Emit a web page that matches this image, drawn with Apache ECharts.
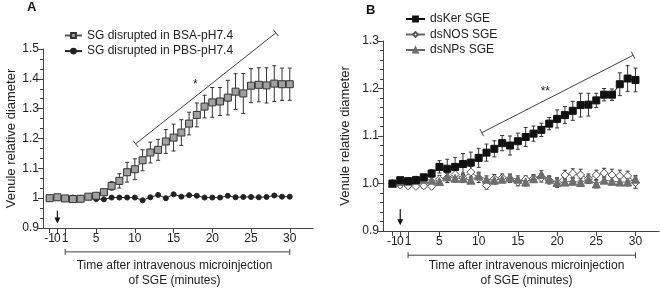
<!DOCTYPE html>
<html>
<head>
<meta charset="utf-8">
<script src="https://cdn.jsdelivr.net/npm/echarts@6/dist/echarts.min.js"></script>
<style>
  html, body { margin: 0; padding: 0; background: #fff; }
  #chart { width: 660px; height: 293px; }
</style>
</head>
<body>
<div id="chart"></div>
<script>
// time points (minutes), same for both panels
var minutes = [-1, 0, 1, 2, 3, 4, 5, 6, 7, 8, 9, 10, 11, 12, 13, 14, 15, 16, 17, 18, 19, 20, 21, 22, 23, 24, 25, 26, 27, 28, 29, 30];
var tickMinutes = [-1, 0, 1, 5, 10, 15, 20, 25, 30];
var labelMinutes = [-1, 1, 5, 10, 15, 20, 25, 30];
var injectMinute = [0];

// panel A
var bsaMean = [1.000, 1.003, 0.999, 0.997, 0.998, 1.005, 1.008, 1.020, 1.041, 1.058, 1.087, 1.097, 1.127, 1.153, 1.162, 1.190,
  1.203, 1.220, 1.250, 1.279, 1.307, 1.321, 1.324, 1.337, 1.357, 1.351, 1.377, 1.380, 1.378, 1.384, 1.382, 1.382];
var bsaErr = [0.003, 0.004, 0.003, 0.004, 0.004, 0.004, 0.005, 0.006, 0.014, 0.024, 0.033, 0.035, 0.035, 0.035, 0.035, 0.040,
  0.045, 0.043, 0.038, 0.040, 0.038, 0.050, 0.047, 0.058, 0.060, 0.067, 0.057, 0.057, 0.059, 0.060, 0.054, 0.054];
var pbsMean = [1.000, 1.002, 0.999, 1.002, 1.001, 1.003, 0.997, 0.996, 1.002, 1.002, 1.002, 1.002, 0.993, 1.003, 1.011, 1.000,
  1.013, 1.005, 1.010, 1.008, 1.002, 1.002, 1.002, 1.008, 1.003, 1.004, 1.004, 1.003, 1.004, 1.009, 1.005, 1.005];

// panel B
var kerMean = [1.000, 1.007, 1.005, 1.007, 1.013, 1.021, 1.035, 1.031, 1.035, 1.041, 1.044, 1.054, 1.065, 1.073, 1.085, 1.080,
  1.089, 1.098, 1.105, 1.113, 1.126, 1.136, 1.144, 1.153, 1.165, 1.166, 1.175, 1.187, 1.187, 1.209, 1.221, 1.218];
var kerErr = [0.002, 0.003, 0.004, 0.005, 0.006, 0.008, 0.013, 0.020, 0.020, 0.022, 0.022, 0.020, 0.018, 0.017, 0.016, 0.020,
  0.017, 0.020, 0.016, 0.014, 0.013, 0.019, 0.018, 0.020, 0.025, 0.024, 0.015, 0.013, 0.012, 0.024, 0.027, 0.025];
var nosMean = [1.000, 0.997, 0.995, 0.994, 0.995, 0.994, 1.009, 1.012, 1.019, 1.012, 1.024, 1.012, 0.996, 1.010, 1.012, 1.010,
  1.003, 1.009, 1.011, 1.012, 1.007, 1.002, 1.018, 1.021, 1.018, 1.010, 1.018, 1.022, 1.018, 1.016, 1.016, 1.002];
var nosErr = [0.002, 0.004, 0.004, 0.004, 0.005, 0.005, 0.008, 0.010, 0.010, 0.010, 0.012, 0.010, 0.008, 0.009, 0.008, 0.008,
  0.008, 0.007, 0.008, 0.009, 0.008, 0.010, 0.010, 0.010, 0.012, 0.010, 0.010, 0.010, 0.012, 0.012, 0.010, 0.012];
var npsMean = [1.000, 1.004, 1.005, 1.007, 1.009, 1.007, 1.004, 1.014, 1.011, 1.011, 1.007, 1.016, 1.009, 1.007, 1.009, 1.012,
  1.009, 1.003, 1.010, 1.019, 1.009, 1.002, 1.003, 1.005, 1.002, 1.009, 0.999, 1.007, 1.005, 1.003, 1.003, 1.009];
var npsErr = [0.002, 0.004, 0.006, 0.008, 0.008, 0.007, 0.006, 0.008, 0.008, 0.007, 0.007, 0.008, 0.007, 0.008, 0.007, 0.008,
  0.007, 0.008, 0.007, 0.008, 0.007, 0.008, 0.007, 0.008, 0.008, 0.007, 0.008, 0.007, 0.008, 0.007, 0.008, 0.008];

// annotations: [x1, y1, x2, y2] in data units
var bracketA = [[10.1, 1.182, 28.2, 1.554]];
var bracketB = [[10.4, 1.107, 29.7, 1.270]];
var starsA = [[17.8, 1.382]];
var starsB = [[18.5, 1.194]];
var starTexts = ['*', '**'];
var timeBarA = [[1, 0.820, 30, 0.820]];
var timeBarB = [[1, 0.849, 30, 0.849]];
var arrowA = [[0, 0.958, 0.915]];
var arrowB = [[0, 0.946, 0.912]];

var ink = '#222';
var font = 'Liberation Sans, Arial, sans-serif';

function pair(m) {
  return minutes.map(function (t, i) { return [t, m[i]]; });
}
function errData(m, e) {
  return minutes.map(function (t, i) { return [t, m[i] - e[i], m[i] + e[i]]; });
}

function errorSeries(idx, m, e) {
  return {
    type: 'custom', xAxisIndex: idx, yAxisIndex: idx, z: 1, silent: true,
    data: errData(m, e),
    renderItem: function (params, api) {
      var x = api.value(0);
      var lo = api.coord([x, api.value(1)]);
      var hi = api.coord([x, api.value(2)]);
      var st = { stroke: '#333', lineWidth: 1 };
      return {
        type: 'group', children: [
          { type: 'line', shape: { x1: lo[0], y1: lo[1], x2: hi[0], y2: hi[1] }, style: st },
          { type: 'line', shape: { x1: lo[0] - 2, y1: lo[1], x2: lo[0] + 2, y2: lo[1] }, style: st },
          { type: 'line', shape: { x1: hi[0] - 2, y1: hi[1], x2: hi[0] + 2, y2: hi[1] }, style: st }
        ]
      };
    }
  };
}

function bracketSeries(idx, data, cap) {
  return {
    type: 'custom', xAxisIndex: idx, yAxisIndex: idx, silent: true, clip: false,
    data: data,
    renderItem: function (params, api) {
      var p1 = api.coord([api.value(0), api.value(1)]);
      var p2 = api.coord([api.value(2), api.value(3)]);
      var dx = p2[0] - p1[0], dy = p2[1] - p1[1];
      var len = Math.sqrt(dx * dx + dy * dy);
      var nx = -dy / len * cap, ny = dx / len * cap;
      var st = { stroke: '#444', lineWidth: 1 };
      return {
        type: 'group', children: [
          { type: 'line', shape: { x1: p1[0], y1: p1[1], x2: p2[0], y2: p2[1] }, style: st },
          { type: 'line', shape: { x1: p1[0] - nx, y1: p1[1] - ny, x2: p1[0] + nx, y2: p1[1] + ny }, style: st },
          { type: 'line', shape: { x1: p2[0] - nx, y1: p2[1] - ny, x2: p2[0] + nx, y2: p2[1] + ny }, style: st }
        ]
      };
    }
  };
}

function starSeries(idx, data, text) {
  return {
    type: 'custom', xAxisIndex: idx, yAxisIndex: idx, silent: true, clip: false,
    data: data,
    renderItem: function (params, api) {
      var p = api.coord([api.value(0), api.value(1)]);
      return {
        type: 'text', x: p[0], y: p[1],
        style: { text: text, fill: ink, font: '12px ' + font, align: 'center', verticalAlign: 'middle' }
      };
    }
  };
}

function arrowSeries(idx, data) {
  return {
    type: 'custom', xAxisIndex: idx, yAxisIndex: idx, silent: true, clip: false,
    data: data,
    renderItem: function (params, api) {
      var a = api.coord([api.value(0), api.value(1)]);
      var b = api.coord([api.value(0), api.value(2)]);
      return {
        type: 'group', children: [
          { type: 'line', shape: { x1: a[0], y1: a[1], x2: b[0], y2: b[1] - 4 }, style: { stroke: '#111', lineWidth: 1.2 } },
          { type: 'polygon', shape: { points: [[b[0] - 3, b[1] - 6], [b[0] + 3, b[1] - 6], [b[0], b[1]]] }, style: { fill: '#111' } }
        ]
      };
    }
  };
}

function lineSeries(idx, name, m, symbol, size, fill, border, lineColor) {
  return {
    type: 'line', name: name, xAxisIndex: idx, yAxisIndex: idx, z: 3,
    data: pair(m),
    symbol: symbol, symbolSize: size,
    lineStyle: { color: lineColor, width: 1 },
    itemStyle: { color: fill, borderColor: border, borderWidth: 1 }
  };
}

function xAxisOf(idx, min, gap, pad) {
  return {
    type: 'value', gridIndex: idx, min: min, max: 33, position: 'bottom',
    splitLine: { show: false },
    axisLine: { onZero: false, lineStyle: { color: '#444', width: 1 } },
    axisTick: { customValues: tickMinutes, length: 5, lineStyle: { color: '#444' } },
    axisLabel: {
      customValues: labelMinutes, color: ink, fontSize: 12, fontFamily: font, margin: 5,
      showMinLabel: true, showMaxLabel: true, hideOverlap: false
    },
    name: 'Time after intravenous microinjection\nof SGE (minutes)',
    nameLocation: 'middle', nameGap: gap,
    nameTextStyle: { color: ink, fontSize: 12, fontFamily: font, lineHeight: 15, verticalAlign: 'top', padding: pad }
  };
}

// second bottom axis on the same grid that only carries the "0" label (injection time)
function zeroAxisOf(idx, min) {
  return {
    type: 'value', gridIndex: idx, min: min, max: 33, position: 'bottom', offset: 0,
    splitLine: { show: false },
    axisLine: { show: false, onZero: false },
    axisTick: { show: false },
    axisLabel: {
      customValues: injectMinute, color: ink, fontSize: 12, fontFamily: font, margin: 5,
      showMinLabel: true, showMaxLabel: true
    }
  };
}

function yAxisOf(idx, max, split, gap, fmt) {
  return {
    type: 'value', gridIndex: idx, min: 0.9, max: max, interval: 0.1,
    splitLine: { show: false },
    axisLine: { show: true, onZero: false, lineStyle: { color: '#444', width: 1 } },
    axisTick: { show: true, length: 5, lineStyle: { color: '#444' } },
    minorTick: { show: true, splitNumber: split, length: 3, lineStyle: { color: '#444' } },
    axisLabel: { color: ink, fontSize: 12, fontFamily: font, margin: 4, formatter: fmt },
    name: 'Venule relative diameter', nameLocation: 'middle', nameGap: gap,
    nameTextStyle: { color: ink, fontSize: 13, fontFamily: font }
  };
}

var chart = echarts.init(document.getElementById('chart'));
chart.setOption({
  animation: false,
  backgroundColor: '#fff',
  graphic: [
    { type: 'text', left: 27, top: 1, style: { text: 'A', font: 'bold 13px ' + font, fill: '#111' } },
    { type: 'text', left: 366, top: 4, style: { text: 'B', font: 'bold 13px ' + font, fill: '#111' } }
  ],
  legend: [
    {
      data: ['SG disrupted in BSA-pH7.4', 'SG disrupted in PBS-pH7.4'],
      orient: 'vertical', left: 59, top: 24.5, itemWidth: 17, itemHeight: 6, itemGap: 3.6,
      textStyle: { color: ink, fontSize: 12, fontFamily: font }
    },
    {
      data: ['dsKer SGE', 'dsNOS SGE', 'dsNPs SGE'],
      orient: 'vertical', left: 400, top: 8, itemWidth: 19, itemHeight: 6, itemGap: 3.5,
      textStyle: { color: ink, fontSize: 12, fontFamily: font }
    }
  ],
  grid: [
    { left: 43, top: 49, width: 270, height: 184 },
    { left: 383, top: 41, width: 276, height: 196 }
  ],
  xAxis: [
    xAxisOf(0, -1.86, 30, [0, 7, 0, 0]),
    xAxisOf(1, -2.2, 27, [0, 0, 0, 11]),
    zeroAxisOf(0, -1.86),
    zeroAxisOf(1, -2.2)
  ],
  yAxis: [
    yAxisOf(0, 1.5, 3, 25, function (v) { return Math.abs(v - 1) < 1e-9 ? '1' : v.toFixed(1); }),
    yAxisOf(1, 1.3, 5, 31, function (v) { return v.toFixed(1); })
  ],
  series: [
    errorSeries(0, bsaMean, bsaErr),
    lineSeries(0, 'SG disrupted in PBS-pH7.4', pbsMean, 'circle', 5, '#222', '#222', '#222'),
    lineSeries(0, 'SG disrupted in BSA-pH7.4', bsaMean, 'rect', 7, '#a0a0a0', '#333', '#555'),
    bracketSeries(0, bracketA, 4),
    bracketSeries(0, timeBarA, 3),
    starSeries(0, starsA, starTexts[0]),
    arrowSeries(0, arrowA),

    errorSeries(1, nosMean, nosErr),
    errorSeries(1, npsMean, npsErr),
    errorSeries(1, kerMean, kerErr),
    lineSeries(1, 'dsNOS SGE', nosMean, 'diamond', 8, '#fff', '#555', '#666'),
    lineSeries(1, 'dsNPs SGE', npsMean, 'triangle', 8, '#6e6e6e', '#6e6e6e', '#666'),
    lineSeries(1, 'dsKer SGE', kerMean, 'rect', 7, '#111', '#111', '#111'),
    bracketSeries(1, bracketB, 4),
    bracketSeries(1, timeBarB, 3),
    starSeries(1, starsB, starTexts[1]),
    arrowSeries(1, arrowB)
  ]
});
</script>
</body>
</html>
